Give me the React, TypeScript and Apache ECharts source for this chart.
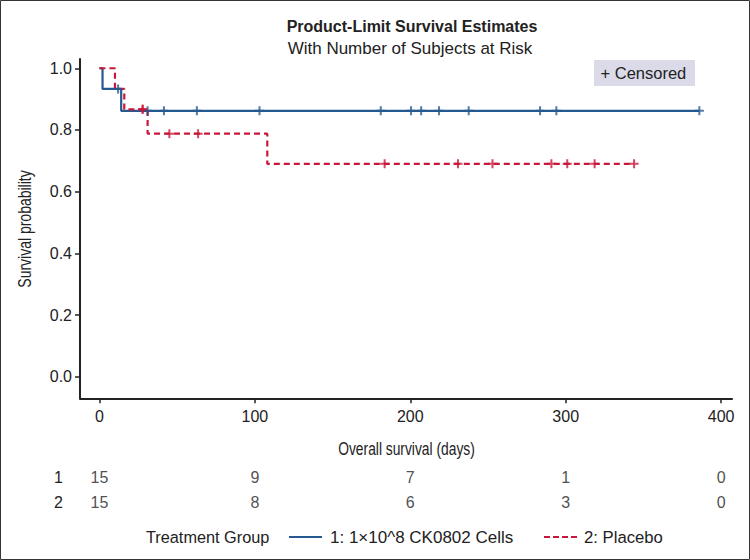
import React, { useEffect, useRef } from "react";
import * as echarts from "echarts";

// ---- data ----
const timeTicks = [0, 100, 200, 300, 400];
const probTicks = [0, 0.2, 0.4, 0.6, 0.8, 1.0];

// Group 1: 1x10^8 CK0802 Cells
const g1EventTimes = [0, 2, 14];
const g1Levels = [1.0, 0.933, 0.862];
const g1EndTime = 386;
const g1CensorTimes = [12, 31, 41.5, 62.7, 103, 181, 200.5, 207, 218.5, 237.6, 283.5, 294, 386];

// Group 2: Placebo
const g2EventTimes = [0, 10, 16, 31, 108];
const g2Levels = [1.0, 0.933, 0.867, 0.788, 0.69];
const g2EndTime = 344;
const g2CensorTimes = [27.8, 27.8, 45, 63.5, 183.5, 230.7, 252.9, 290.8, 301, 318.6, 344];

// Number at risk
const riskRows = ["1", "2"];
const atRisk1 = [15, 9, 7, 1, 0];
const atRisk2 = [15, 8, 6, 3, 0];

const title = "Product-Limit Survival Estimates";
const subtitle = "With Number of Subjects at Risk";
const xTitle = "Overall survival (days)";
const yTitle = "Survival probability";
const legendTitle = "Treatment Group";
const legendNames = ["1: 1\u00d710^8 CK0802 Cells", "2: Placebo"];

const BLUE = "#245a8f";
const RED = "#c9173b";
const TXT = "#222222";
const FONT = "'Liberation Sans', Arial, Helvetica, sans-serif";
const PLUS = "path://M-1,-4.5h2v9h-2z M-4.5,-1h9v2h-9z";

function stepPoints(times: number[], levels: number[], end: number) {
  const pts: number[][] = [[times[0], levels[0]]];
  for (let i = 1; i < times.length; i++) {
    pts.push([times[i], levels[i - 1]]);
    pts.push([times[i], levels[i]]);
  }
  pts.push([end, levels[levels.length - 1]]);
  return pts;
}
function levelAt(times: number[], levels: number[], t: number) {
  let v = levels[0];
  for (let i = 0; i < times.length; i++) if (times[i] <= t) v = levels[i];
  return v;
}

export default function App() {
  const ref = useRef<HTMLDivElement>(null);
  useEffect(() => {
    if (!ref.current) return;
    const chart = echarts.init(ref.current, undefined, { renderer: "svg" });
    const xMin = -12.5;
    const xMax = 407;
    const riskData: any[] = [];
    timeTicks.forEach((t, i) => {
      riskData.push([t, 0, atRisk1[i]]);
      riskData.push([t, 1, atRisk2[i]]);
    });
    const option: any = {
      animation: false,
      backgroundColor: "#ffffff",
      textStyle: { fontFamily: FONT },
      title: [
        {
          text: title,
          left: 407,
          top: 13,
          textAlign: "center",
          textStyle: { fontFamily: FONT, fontSize: 16, fontWeight: "bold", color: TXT },
        },
        {
          text: subtitle,
          left: 405,
          top: 35,
          textAlign: "center",
          textStyle: { fontFamily: FONT, fontSize: 17, fontWeight: "normal", color: TXT },
        },
      ],
      grid: [
        { left: 80, top: 59, width: 652, height: 339.3, containLabel: false },
        { left: 80, top: 464.5, width: 652, height: 50, containLabel: false },
      ],
      xAxis: [
        {
          type: "value",
          gridIndex: 0,
          min: xMin,
          max: xMax,
          splitLine: { show: false },
          axisLine: { show: true, onZero: false, lineStyle: { color: TXT, width: 2 } },
          axisTick: { show: true, length: 5, lineStyle: { color: TXT, width: 1.5 }, customValues: timeTicks },
          axisLabel: { color: TXT, fontSize: 16, fontFamily: FONT, margin: 10, customValues: timeTicks },
        },
        {
          type: "value",
          gridIndex: 1,
          min: xMin,
          max: xMax,
          show: false,
        },
      ],
      yAxis: [
        {
          type: "value",
          gridIndex: 0,
          min: -0.07,
          max: 1.03,
          splitLine: { show: false },
          axisLine: { show: true, onZero: false, lineStyle: { color: TXT, width: 2 } },
          axisTick: { show: true, length: 5, lineStyle: { color: TXT, width: 1.5 }, customValues: probTicks },
          axisLabel: {
            color: TXT,
            fontSize: 16,
            fontFamily: FONT,
            margin: 8,
            customValues: probTicks,
            formatter: (v: number) => v.toFixed(1),
          },
        },
        {
          type: "category",
          gridIndex: 1,
          data: riskRows,
          inverse: true,
          axisLine: { show: false },
          axisTick: { show: false },
          splitLine: { show: false },
          axisLabel: { color: TXT, fontSize: 16, fontFamily: FONT, margin: 17 },
        },
      ],
      series: [
        {
          name: legendNames[0],
          type: "line",
          xAxisIndex: 0,
          yAxisIndex: 0,
          data: stepPoints(g1EventTimes, g1Levels, g1EndTime),
          showSymbol: false,
          lineStyle: { color: BLUE, width: 2.2 },
          z: 2,
        },
        {
          name: legendNames[1],
          type: "line",
          xAxisIndex: 0,
          yAxisIndex: 0,
          data: stepPoints(g2EventTimes, g2Levels, g2EndTime),
          showSymbol: false,
          lineStyle: { color: RED, width: 2.2, type: [6, 4] },
          z: 3,
        },
        {
          type: "scatter",
          xAxisIndex: 0,
          yAxisIndex: 0,
          data: g1CensorTimes.map((t) => [t, levelAt(g1EventTimes, g1Levels, t)]),
          symbol: PLUS,
          symbolSize: 9,
          itemStyle: { color: BLUE },
          z: 4,
        },
        {
          type: "scatter",
          xAxisIndex: 0,
          yAxisIndex: 0,
          data: g2CensorTimes.map((t) => [t, levelAt(g2EventTimes, g2Levels, t)]),
          symbol: PLUS,
          symbolSize: 9,
          itemStyle: { color: RED },
          z: 5,
        },
        {
          type: "scatter",
          xAxisIndex: 1,
          yAxisIndex: 1,
          data: riskData,
          symbolSize: 1,
          itemStyle: { color: "rgba(0,0,0,0)" },
          label: {
            show: true,
            position: "inside",
            formatter: (p: any) => String(p.value[2]),
            color: TXT,
            fontSize: 16,
            fontFamily: FONT,
          },
        },
      ],
      graphic: [
        {
          type: "rect",
          shape: { x: 0.5, y: 0.5, width: 749, height: 559 },
          style: { fill: "none", stroke: "#333333", lineWidth: 1 },
          silent: true,
        },
        {
          type: "text",
          x: 406.5,
          y: 449,
          scaleX: 0.79,
          style: { text: xTitle, fill: TXT, fontSize: 17.5, fontFamily: FONT, align: "center", verticalAlign: "middle" },
        },
        {
          type: "text",
          x: 25,
          y: 229,
          rotation: Math.PI / 2,
          scaleX: 0.8,
          style: { text: yTitle, fill: TXT, fontSize: 17.5, fontFamily: FONT, align: "center", verticalAlign: "middle" },
        },
        {
          type: "rect",
          shape: { x: 594, y: 60, width: 101, height: 26 },
          style: { fill: "#dadae9" },
        },
        {
          type: "text",
          x: 600.5,
          y: 73,
          style: { text: "+ Censored", fill: TXT, fontSize: 16.5, fontFamily: FONT, verticalAlign: "middle" },
        },
        {
          type: "text",
          x: 146,
          y: 537,
          style: { text: legendTitle, fill: TXT, fontSize: 16.3, fontFamily: FONT, verticalAlign: "middle" },
        },
        {
          type: "line",
          shape: { x1: 289, y1: 537, x2: 322, y2: 537 },
          style: { stroke: BLUE, lineWidth: 2 },
        },
        {
          type: "text",
          x: 330,
          y: 537,
          style: { text: legendNames[0], fill: TXT, fontSize: 17, fontFamily: FONT, verticalAlign: "middle" },
        },
        {
          type: "line",
          shape: { x1: 544, y1: 537, x2: 577, y2: 537 },
          style: { stroke: RED, lineWidth: 2, lineDash: [6, 3] },
        },
        {
          type: "text",
          x: 584,
          y: 537,
          style: { text: legendNames[1], fill: TXT, fontSize: 16.7, fontFamily: FONT, verticalAlign: "middle" },
        },
      ],
    };
    chart.setOption(option);
    return () => chart.dispose();
  }, []);
  return (
    <div
      ref={ref}
      style={{ position: "absolute", left: 0, top: 0, width: 750, height: 560 }}
    />
  );
}
